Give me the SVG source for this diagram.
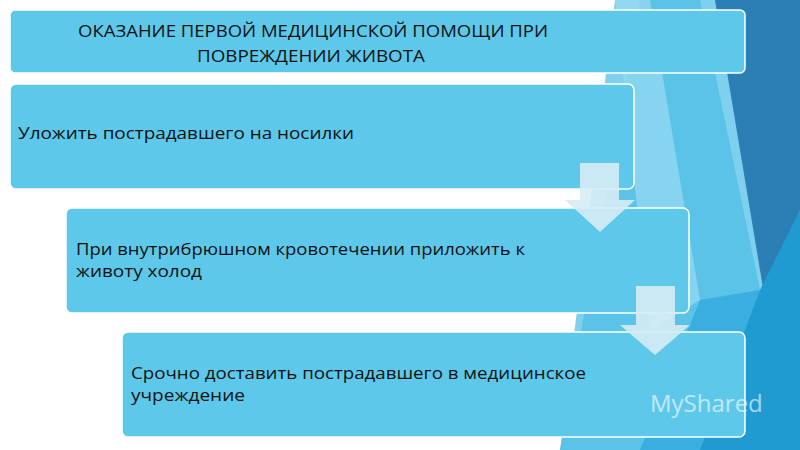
<svg xmlns="http://www.w3.org/2000/svg" width="800" height="450" viewBox="0 0 800 450">
<style>
.box{fill:#5ec8ea;stroke:#ffffff;stroke-width:1.5}
.t{font-family:"Open Sans","Liberation Sans",sans-serif;font-size:17px;fill:#111}
.arr{fill:#d6ecf5;opacity:0.9}
</style>
<rect width="800" height="450" fill="#ffffff"/>
<g id="background">
<polygon points="615,0 800,0 800,450 560,450" fill="#7fd0ee"/>
<polygon points="640,0 700,0 760,290 700,450 560,450" fill="#5bc3e8"/>
<polygon points="715,0 800,0 800,210 765,300" fill="#2b7fb4"/>
<polygon points="760,290 800,210 800,450 690,450" fill="#1f9bd2"/>
<polygon points="700,300 760,290 700,450 640,450" fill="#3aaee0"/>
<polygon points="615,0 650,0 700,300 650,330" fill="#9adcf3" opacity="0.7"/>
</g>
<g id="title"><rect class="box" x="10" y="10" width="735" height="63" rx="5"/>
<text class="t" x="78" y="37" textLength="470" lengthAdjust="spacingAndGlyphs">ОКАЗАНИЕ  ПЕРВОЙ  МЕДИЦИНСКОЙ ПОМОЩИ ПРИ</text>
<text class="t" x="197" y="62" textLength="228" lengthAdjust="spacingAndGlyphs">ПОВРЕЖДЕНИИ ЖИВОТА</text></g>
<g id="step1"><rect class="box" x="10" y="84" width="624" height="105" rx="6"/>
<text class="t" x="18" y="139" textLength="336" lengthAdjust="spacingAndGlyphs">Уложить пострадавшего на носилки</text></g>
<g id="step2"><rect class="box" x="66" y="208" width="623" height="105" rx="6"/>
<text class="t" x="76" y="255" textLength="449" lengthAdjust="spacingAndGlyphs">При внутрибрюшном кровотечении приложить к</text>
<text class="t" x="76" y="277" textLength="126" lengthAdjust="spacingAndGlyphs">животу холод</text></g>
<g id="step3"><rect class="box" x="122" y="332" width="623" height="105" rx="6"/>
<text class="t" x="131" y="379" textLength="455" lengthAdjust="spacingAndGlyphs">Срочно доставить пострадавшего в медицинское</text>
<text class="t" x="131" y="401" textLength="114" lengthAdjust="spacingAndGlyphs">учреждение</text></g>
<g id="connectors">
<polygon class="arr" points="580,163 619,163 619,200 635,200 600,232 565,200 580,200"/>
<polygon class="arr" points="636,286 675,286 675,325 690,325 655,355 620,325 636,325"/>
</g>
<text x="650" y="412" font-family="Open Sans,Liberation Sans,sans-serif" font-size="24" fill="#ffffff" opacity="0.6">MyShared</text>
</svg>
